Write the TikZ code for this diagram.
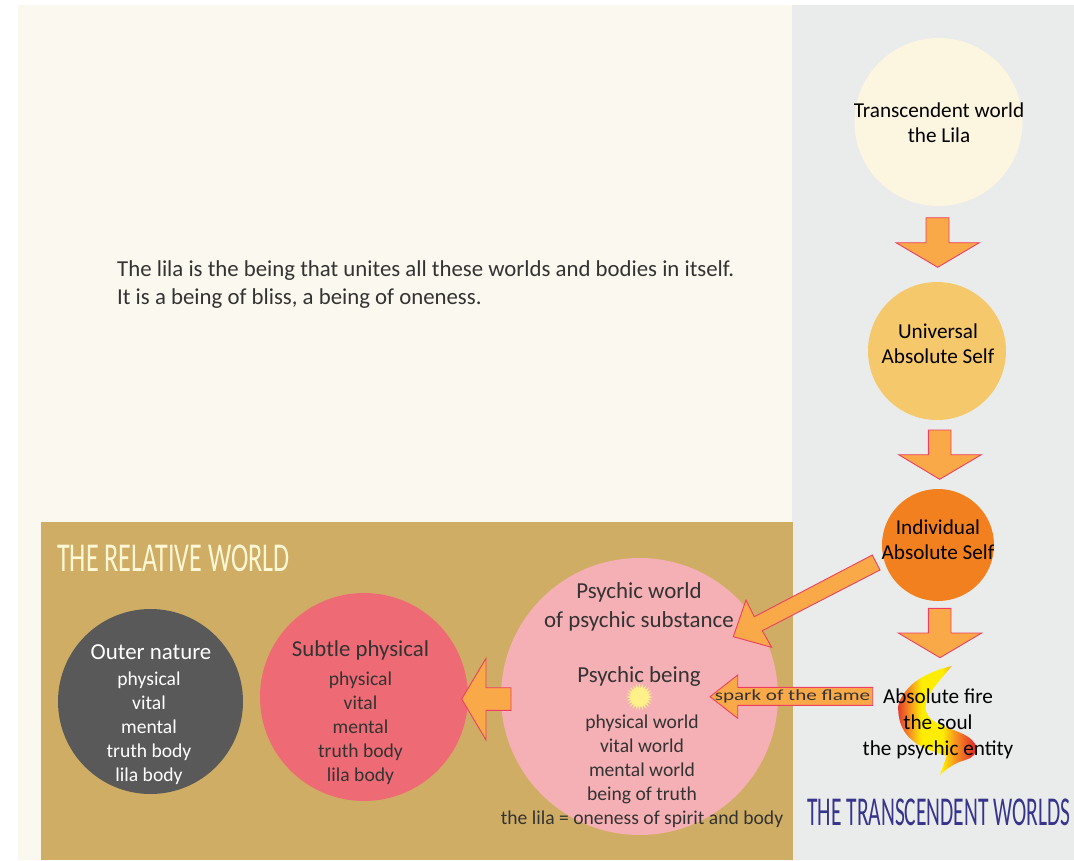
\documentclass[tikz,border=0pt]{standalone}
\usepackage{fontspec}
\setmainfont{Carlito}
\usetikzlibrary{shapes.geometric}
\definecolor{creambg}{HTML}{FBF8EF}
\definecolor{graybg}{HTML}{EAECEC}
\definecolor{goldbg}{HTML}{D0AD64}
\definecolor{arrowfill}{HTML}{F9A947}
\definecolor{arrowline}{HTML}{EE3F62}
\definecolor{txt}{HTML}{333333}
\definecolor{navy}{HTML}{37348B}
\definecolor{transc}{HTML}{FCF5DF}
\definecolor{univc}{HTML}{F5C86B}
\definecolor{indivc}{HTML}{F2801E}
\definecolor{psyc}{HTML}{F5B0B5}
\definecolor{subtlec}{HTML}{EE6B75}
\definecolor{outerc}{HTML}{595959}
\definecolor{sunc}{HTML}{FFF08A}
\definecolor{relc}{HTML}{FFF8D7}
\definecolor{flred}{HTML}{E2342B}
\definecolor{florange}{HTML}{F79420}
\definecolor{flyellow}{HTML}{FFED00}
\pgfdeclarehorizontalshading{flameshade}{100bp}{
 color(0bp)=(flred);
 color(25bp)=(flred);
 color(33bp)=(florange);
 color(40bp)=(flyellow);
 color(53bp)=(flyellow);
 color(61bp)=(florange);
 color(72bp)=(flred);
 color(100bp)=(flred)}
\tikzset{
 x=1pt,y=-1pt,
 blockarrow/.style={fill=arrowfill,draw=arrowline,line width=0.9pt,line join=miter},
 disc/.style={circle,inner sep=0pt,align=center,text=txt},
 label/.style={align=center,text=txt,inner sep=0pt},
}
\begin{document}
\begin{tikzpicture}
\useasboundingbox (0,0) rectangle (1074,860);
\fill[creambg] (18,5) rectangle (792,860);
\fill[graybg] (792,5) rectangle (1074,860);
\fill[goldbg] (41,522) rectangle (793,860);

% discs
\node[disc,fill=transc,minimum size=168pt] (trans) at (938.5,122) {};
\node[disc,fill=univc,minimum size=138pt] (univ) at (937,351) {};
\node[disc,fill=indivc,minimum size=112pt] (indiv) at (938,545) {};
\node[disc,fill=psyc,minimum size=277pt] (psy) at (639.5,696.5) {};
\node[disc,fill=subtlec,minimum size=208pt] (subtle) at (364,697) {};
\node[disc,fill=outerc,minimum size=185pt] (outer) at (150.5,701.5) {};

% flame
\shade[shading=flameshade]
 (951.7,666) .. controls (935,670) and (916,678) .. (906.7,690)
 .. controls (900,698) and (897,705) .. (898.3,712)
 .. controls (899,722) and (903,733) .. (912,740)
 .. controls (922,749) and (935,752) .. (946.7,756)
 -- (940,775)
 .. controls (946,769) and (950,767) .. (955,764)
 .. controls (962,760) and (970,760) .. (974,755)
 .. controls (978,750) and (977,745) .. (972,740)
 .. controls (963,731) and (945,729) .. (932,720)
 .. controls (926,715) and (924,709) .. (927,700)
 .. controls (931,689) and (942,678) .. (951.7,666) -- cycle;

% arrows
\draw[blockarrow] (926,217.7) -- (949,217.7) -- (949,242.7) -- (979.3,242.7) -- (937.7,267.3) -- (896,242.7) -- (926,242.7) -- cycle;
\draw[blockarrow] (928.3,430) -- (951,430) -- (951,454.7) -- (981.3,454.7) -- (939.7,479.3) -- (898.7,454.7) -- (928.3,454.7) -- cycle;
\draw[blockarrow] (928.3,608.3) -- (951,608.3) -- (951,633) -- (981.7,633) -- (940,657.7) -- (898.3,633) -- (928.3,633) -- cycle;
\draw[blockarrow] (733.3,636.7) -- (746,600) -- (754.3,616.7) -- (872.3,555) -- (880,570) -- (762.3,630.7) -- (771.7,647.3) -- cycle;
\draw[blockarrow] (710,696.7) -- (737.7,675) -- (737.7,687.3) -- (872.7,687.3) -- (872.7,705.3) -- (737.7,705.3) -- (737.7,718.3) -- cycle;
\draw[blockarrow] (461.7,699) -- (486,658.3) -- (486,687.7) -- (511,687.7) -- (511,710.3) -- (486,710.3) -- (486,740) -- cycle;

% spark
\node[star,star points=24,star point ratio=1.55,fill=sunc,inner sep=0pt,minimum size=27pt] (sun) at (639.5,697) {};

% texts
\node[label,anchor=west,align=left,font=\fontsize{22.8}{28}\selectfont] (intro) at (117,284.5) {The lila is the being that unites all these worlds and bodies in itself.\\It is a being of bliss, a being of oneness.};

\node[label,text=black,font=\fontsize{21.2}{25}\selectfont] (t1) at (939,123) {Transcendent world\\the Lila};
\node[label,text=black,font=\fontsize{21.2}{25}\selectfont] (t2) at (938,343.5) {Universal\\Absolute Self};
\node[label,text=black,font=\fontsize{21.2}{25}\selectfont] (t3) at (938,539.5) {Individual\\Absolute Self};
\node[label,text=black,font=\fontsize{21.2}{26}\selectfont] (t4) at (938,724) {Absolute fire\\the soul\\the psychic entity};

\node[label,font=\fontsize{22.9}{29}\selectfont] (p1) at (639,606.5) {Psychic world\\of psychic substance};
\node[label,font=\fontsize{22.9}{25}\selectfont] (p2) at (639,676.5) {Psychic being};
\node[label,font=\fontsize{19.6}{24}\selectfont] (p3) at (642,771) {physical world\\vital world\\mental world\\being of truth\\the lila = oneness of spirit and body};

\node[label,font=\fontsize{22.8}{25}\selectfont] (s1) at (360.5,650.5) {Subtle physical};
\node[label,font=\fontsize{19.6}{24}\selectfont] (s2) at (360.5,728) {physical\\vital\\mental\\truth body\\lila body};

\node[label,text=white,font=\fontsize{22.9}{25}\selectfont] (o1) at (151,652.5) {Outer nature};
\node[label,text=white,font=\fontsize{19.6}{24}\selectfont] (o2) at (149,728.5) {physical\\vital\\mental\\truth body\\lila body};

\node[label,xscale=1.36,font=\fontsize{15.5}{18}\selectfont] (spk) at (792.5,696.5) {spark of the flame};

\node[label,text=relc,xscale=0.637,font=\fontsize{41}{44}\selectfont] (rel) at (173.5,558) {THE RELATIVE WORLD};
\node[label,text=navy,xscale=0.524,font=\fontsize{41}{44}\selectfont] (tw) at (939,812) {THE TRANSCENDENT WORLDS};
\end{tikzpicture}
\end{document}
